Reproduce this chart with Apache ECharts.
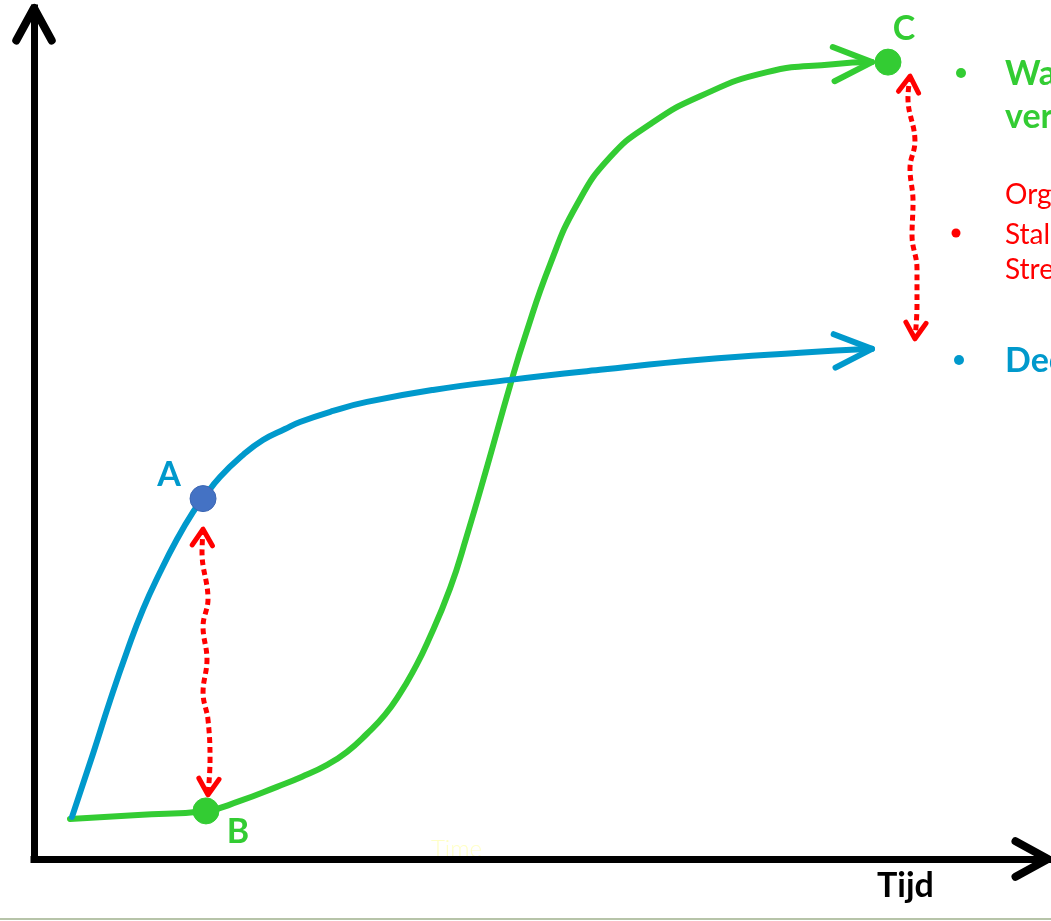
<!DOCTYPE html>
<html>
<head>
<meta charset="utf-8">
<script src="https://cdn.jsdelivr.net/npm/echarts@6/dist/echarts.min.js"></script>
<style>
html,body{margin:0;padding:0;background:#fff;}
#chart{width:1051px;height:921px;}
</style>
</head>
<body>
<div id="chart"></div>
<script>
// ---- data (x = time 0..100, y = value 0..100) ----
const blueCurve = [
  [3.75,4.95],[5.82,12.37],[7.50,18.61],[9.17,24.38],[10.75,29.33],[12.43,33.69],
  [14.10,37.57],[15.68,40.75],[16.67,42.35],[18.34,44.88],[20.61,47.47],[22.58,49.23],
  [24.75,50.53],[26.23,51.35],[29.49,52.65],[32.84,53.71],[39.35,55.12],[46.94,56.30],
  [55.82,57.48],[65.68,58.66],[75.54,59.48],[82.64,59.95]
];
const greenCurve = [
  [3.55,4.71],[10.26,5.18],[16.96,5.65],[20.32,6.83],[23.96,8.48],[26.43,9.66],
  [28.90,11.07],[30.87,12.60],[32.84,14.72],[34.62,16.96],[36.09,19.43],[37.48,22.26],
  [38.76,25.32],[41.03,31.80],[42.70,38.04],[44.67,46.05],[46.94,55.59],[48.42,61.37],
  [50.89,69.85],[53.55,76.91],[56.80,82.45],[60.75,86.34],[65.68,89.63],[72.29,92.46],
  [78.80,93.40],[82.64,93.64]
];
const gapAB = [
  [16.67,38.75],[16.57,36.04],[17.16,30.51],[16.67,27.33],[17.06,23.44],[16.67,19.55],
  [17.16,16.37],[17.36,11.66],[17.16,7.54]
];
const gapC = [
  [86.39,91.99],[86.19,89.40],[86.88,84.33],[86.39,81.15],[86.69,77.27],[86.59,73.26],
  [87.08,69.38],[87.08,65.02],[86.88,61.13]
];
const pointNames = ['A','B','C'];
const pointValues = [[16.67,42.35],[16.96,5.65],[84.22,93.64]];
const xAxisName = 'Tijd';
const ghostAxisName = 'Time';
const greenNote = ['Wa','ver'];
const redNote = ['Org','Stal','Stre'];
const blueNote = ['Dec'];

// ---- styling ----
const BLUE = '#0099cc', GREEN = '#33cc33', RED = '#ff0000', DOT_A = '#4472c4';
const FONT = 'Lato, "Open Sans", sans-serif';

function chevronSeries(name, data, color, len, spread, width) {
  return {
    type: 'custom', name: name, clip: false, silent: true, z: 5,
    data: data,
    renderItem: function (params, api) {
      const tip = api.coord([api.value(0), api.value(1)]);
      const ref = api.coord([api.value(2), api.value(3)]);
      const ang = Math.atan2(tip[1] - ref[1], tip[0] - ref[0]);
      const p1 = [tip[0] - len * Math.cos(ang - spread), tip[1] - len * Math.sin(ang - spread)];
      const p2 = [tip[0] - len * Math.cos(ang + spread), tip[1] - len * Math.sin(ang + spread)];
      return {
        type: 'polyline',
        shape: { points: [p1, tip, p2] },
        style: { stroke: color, fill: null, lineWidth: width, lineCap: 'round', lineJoin: 'round' }
      };
    }
  };
}
function endArrow(curve) {
  const n = curve.length;
  return [curve[n - 1][0], curve[n - 1][1], curve[n - 2][0], curve[n - 2][1]];
}
function startArrow(curve) {
  return [curve[0][0], curve[0][1], curve[1][0], curve[1][1]];
}

const chart = echarts.init(document.getElementById('chart'), null, { renderer: 'canvas' });

const axisCommon = {
  type: 'value', min: 0, max: 100,
  axisLine: { show: true, onZero: true, lineStyle: { color: '#000', width: 7, cap: 'square' } },
  axisTick: { show: false }, axisLabel: { show: false }, splitLine: { show: false }
};

const curveStyle = { smooth: 0.5, showSymbol: false, z: 3 };

const option = {
  animation: false,
  backgroundColor: '#fff',
  grid: { left: 34, right: 3, top: 8, bottom: 62, outerBoundsMode: 'none', containLabel: false },
  xAxis: Object.assign({}, axisCommon),
  yAxis: Object.assign({}, axisCommon),
  graphic: [
    { type: 'text', z: -10, style: { text: ghostAxisName, x: 431, y: 849, fill: '#ffffc6', font: '300 24px ' + FONT, textVerticalAlign: 'middle' } },
    { type: 'text', style: { text: xAxisName, x: 877, y: 886, fill: '#000', font: 'bold 34px ' + FONT, textVerticalAlign: 'middle' } },
    { type: 'circle', shape: { cx: 961, cy: 73, r: 5 }, style: { fill: GREEN } },
    { type: 'text', style: { text: greenNote[0], x: 1005, y: 74, fill: GREEN, font: 'bold 34px ' + FONT, textVerticalAlign: 'middle' } },
    { type: 'text', style: { text: greenNote[1], x: 1005, y: 117, fill: GREEN, font: 'bold 34px ' + FONT, textVerticalAlign: 'middle' } },
    { type: 'text', style: { text: redNote[0], x: 1005, y: 195, fill: RED, font: '28px ' + FONT, textVerticalAlign: 'middle' } },
    { type: 'circle', shape: { cx: 956, cy: 233, r: 4.5 }, style: { fill: RED } },
    { type: 'text', style: { text: redNote[1], x: 1005, y: 235, fill: RED, font: '28px ' + FONT, textVerticalAlign: 'middle' } },
    { type: 'text', style: { text: redNote[2], x: 1005, y: 270, fill: RED, font: '28px ' + FONT, textVerticalAlign: 'middle' } },
    { type: 'circle', shape: { cx: 959, cy: 360, r: 5 }, style: { fill: BLUE } },
    { type: 'text', style: { text: blueNote[0], x: 1005, y: 361, fill: BLUE, font: 'bold 34px ' + FONT, textVerticalAlign: 'middle' } },
    { type: 'line', shape: { x1: 0, y1: 919, x2: 1051, y2: 919 }, style: { stroke: '#9fb08c', lineWidth: 1.5 } }
  ],
  series: [
    Object.assign({ type: 'line', name: 'green', data: greenCurve,
      lineStyle: { color: GREEN, width: 6, cap: 'round', join: 'round' } }, curveStyle),
    Object.assign({ type: 'line', name: 'blue', data: blueCurve,
      lineStyle: { color: BLUE, width: 6, cap: 'round', join: 'round' } }, curveStyle),
    chevronSeries('greenArrow', [endArrow(greenCurve)], GREEN, 42, 0.42, 6),
    chevronSeries('blueArrow', [endArrow(blueCurve)], BLUE, 41, 0.42, 6),
    { type: 'line', name: 'gapAB', data: gapAB, smooth: 0.4, showSymbol: false, z: 4,
      lineStyle: { color: RED, width: 5, type: [6, 4] } },
    { type: 'line', name: 'gapC', data: gapC, smooth: 0.4, showSymbol: false, z: 4,
      lineStyle: { color: RED, width: 5, type: [6, 4] } },
    chevronSeries('redArrows', [startArrow(gapAB), endArrow(gapAB), startArrow(gapC), endArrow(gapC)], RED, 19, 0.56, 5),
    chevronSeries('axisArrows', [[100, 0, 0, 0], [0, 100, 0, 0]], '#000', 37, 0.5, 8),
    { type: 'scatter', name: 'points', z: 6, symbolSize: 26,
      data: pointNames.map(function (n, i) {
        const offs = [[-34, -24], [32, 21], [16, -33]];
        const cols = [DOT_A, GREEN, GREEN];
        const lcols = [BLUE, GREEN, GREEN];
        return {
          name: n, value: pointValues[i],
          itemStyle: { color: cols[i], opacity: 1, borderColor: i === 0 ? '#3b66b3' : cols[i], borderWidth: 1 },
          label: { show: true, formatter: n, position: 'inside', offset: offs[i], color: lcols[i],
                   fontFamily: FONT, fontWeight: 'bold', fontSize: 34, opacity: 1 }
        };
      })
    }
  ]
};
chart.setOption(option);
</script>
</body>
</html>
